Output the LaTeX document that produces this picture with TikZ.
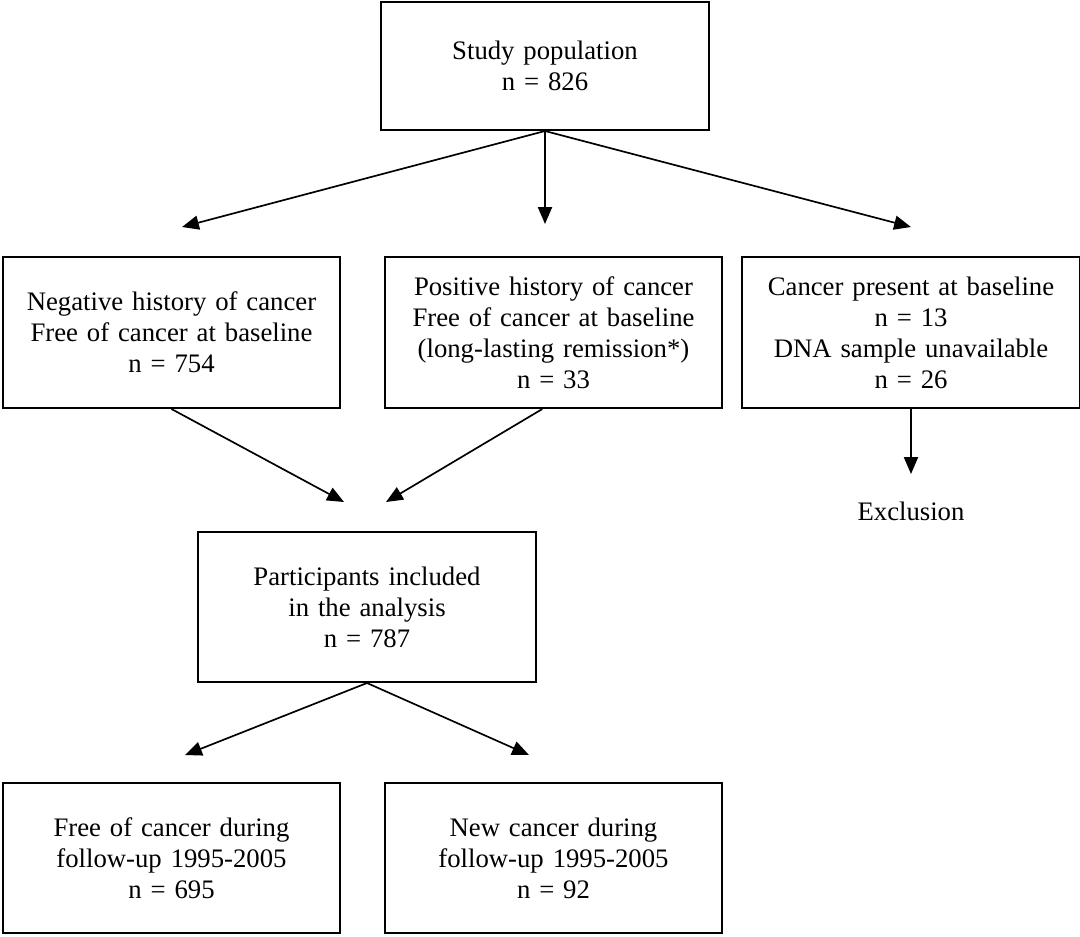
\documentclass[tikz,border=0pt]{standalone}
\usepackage{fontspec}
\setmainfont{Liberation Serif}
\usepackage{tikz}
\usetikzlibrary{arrows.meta, positioning}

\begin{document}
\begin{tikzpicture}[x=0.025cm, y=-0.025cm,
    box/.style={rectangle, draw=black, line width=1.4pt, inner sep=0pt,
                minimum width=8.425cm, minimum height=3.775cm,
                text width=8.2cm, align=center, font=\fontsize{19}{22}\selectfont},
    sbox/.style={box, minimum width=8cm, minimum height=3.2cm},
    arrow/.style={line width=1.2pt, -{Triangle[length=12pt,width=10pt]}}]
\useasboundingbox (0,0) rectangle (1080,936);

% Top
\node (pop) [sbox] at (545,66) {Study population\\ n = 826};

% Second row
\node (neg)  [box] at (171.5,332.5) {Negative history of cancer\\ Free of cancer at baseline\\ n = 754};
\node (pos)  [box] at (553.5,332.5) {Positive history of cancer\\ Free of cancer at baseline\\ (long-lasting remission*)\\ n = 33};
\node (canc) [box] at (911,332.5) {Cancer present at baseline\\ n = 13\\ DNA sample unavailable\\ n = 26};

% Exclusion
\coordinate (canctip) at (911,474);
\node (excl) [below=0.7cm of canctip, inner sep=0pt, font=\fontsize{19}{22}\selectfont] {Exclusion};

% Included
\node (part) [box, minimum width=8.45cm, minimum height=3.75cm] at (367,607) {Participants included\\ in the analysis\\ n = 787};

% Follow-up
\node (free) [box, minimum height=3.75cm] at (171.5,858) {Free of cancer during\\ follow-up 1995-2005\\ n = 695};
\node (new)  [box, minimum height=3.75cm] at (553.5,858) {New cancer during\\ follow-up 1995-2005\\ n = 92};

% Arrow ends
\coordinate (negtip)  at (182,227);
\coordinate (postip)  at (545,224);
\coordinate (canctop) at (911,227);
\coordinate (inleft)  at (344,502);
\coordinate (inright) at (386,502);
\coordinate (freetip) at (185,755);
\coordinate (newtip)  at (529,755);

% Arrows -- population to groups
\draw [arrow] (pop.south) -- (negtip);
\draw [arrow] (pop.south) -- (postip);
\draw [arrow] (pop.south) -- (canctop);
% Groups to included / exclusion
\draw [arrow] (neg.south) -- (inleft);
\draw [arrow] ([xshift=-0.28cm]pos.south) -- (inright);
\draw [arrow] (canc.south) -- (canctip);
% Included to follow-up
\draw [arrow] (part.south) -- (freetip);
\draw [arrow] (part.south) -- (newtip);
\end{tikzpicture}
\end{document}
